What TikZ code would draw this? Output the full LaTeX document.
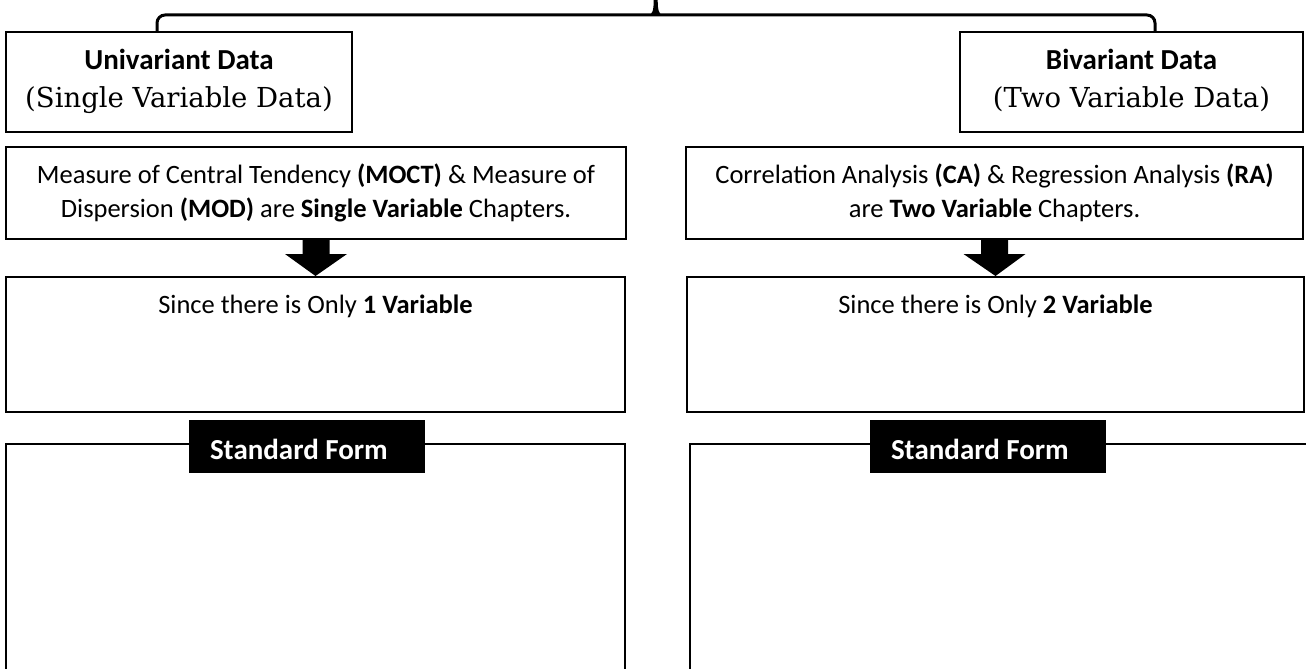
\documentclass[tikz,border=0pt]{standalone}
\usepackage{fontspec}
\setmainfont{Carlito}
\newfontfamily\capfont{DejaVu Serif}
\usetikzlibrary{calc}
\begin{document}
\begin{tikzpicture}[x=1pt,y=-1pt,
  box/.style={draw=black, line width=2pt, rectangle, inner sep=0pt},
  brace/.style={draw=black, line width=3pt, rounded corners=8pt},
  frame/.style={draw=black, line width=2pt},
  txt/.style={anchor=base, inner sep=0pt},
  head/.style={txt, font=\fontsize{29}{37}\selectfont\bfseries},
  sub/.style={txt, font=\capfont\fontsize{27.5}{37}\selectfont},
  body/.style={txt, font=\fontsize{26.5}{34}\selectfont},
  sflabel/.style={fill=black, draw=none, rectangle, inner sep=0pt, minimum width=236pt, minimum height=53pt},
  sftext/.style={text=white, inner sep=0pt, anchor=base west, font=\fontsize{29}{34}\selectfont\bfseries},
  blockarrow/.style={fill=black}]
\useasboundingbox (0,0) rectangle (1306,669);

% top row: the two kinds of data
\node[box, minimum width=346pt, minimum height=100pt] (uni) at (179,82) {};
\node[head] (unih) at ($(uni.north)+(0,39)$) {Univariant Data};
\node[sub] (unis) at ($(uni.north)+(0,76)$) {(Single Variable Data)};
\node[box, minimum width=343pt, minimum height=100pt] (bi) at (1131.5,82) {};
\node[head] (bih) at ($(bi.north)+(0,39)$) {Bivariant Data};
\node[sub] (bis) at ($(bi.north)+(0,76)$) {(Two Variable Data)};

% brace joining the two boxes
\coordinate (apex) at (655.7,15);
\draw[brace] ([xshift=-22pt]uni.north) |- (apex) -| ([xshift=23.5pt]bi.north);
\fill (apex) ++(-7,0) .. controls (652.5,14.5) and (653.7,10) .. (653.7,0)
  -- (657.7,0) .. controls (657.7,10) and (658.9,14.5) .. (662.7,15) -- cycle;

% chapters
\node[box, minimum width=620pt, minimum height=92pt] (m1) at (316,193) {};
\node[body] (m1a) at ($(m1.north)+(0,37)$) {Measure of Central Tendency \textbf{(MOCT)} \& Measure of};
\node[body] (m1b) at ($(m1.north)+(0,71)$) {Dispersion \textbf{(MOD)} are \textbf{Single Variable} Chapters.};
\node[box, minimum width=617pt, minimum height=92pt] (m2) at (994.5,193) {};
\node[body] (m2a) at ($(m2.north)+(0,37)$) {Correlation Analysis \textbf{(CA)} \& Regression Analysis \textbf{(RA)}};
\node[body] (m2b) at ($(m2.north)+(0,71)$) {are \textbf{Two Variable} Chapters.};

% number of variables
\node[box, minimum width=619pt, minimum height=135pt] (s1) at (315.5,344.5) {};
\node[body] (s1t) at ($(s1.north)+(0,37)$) {Since there is Only \textbf{1 Variable}};
\node[box, minimum width=617pt, minimum height=135pt] (s2) at (995.5,344.5) {};
\node[body] (s2t) at ($(s2.north)+(0,37)$) {Since there is Only \textbf{2 Variable}};

% block arrows
\foreach \a/\b in {m1/s1, m2/s2}{
  \fill[blockarrow] ($(\a.south)+(-13.5,0)$) -- ($(\a.south)+(13.5,0)$)
    -- ($(\a.south)+(13.5,14)$) -- ($(\a.south)+(31,14)$) -- (\b.north)
    -- ($(\a.south)+(-31,14)$) -- ($(\a.south)+(-13.5,14)$) -- cycle;
}

% standard form panels
\draw[frame] (6,672) |- (625,444) -- (625,672);
\draw[frame] (690,672) |- (1310,444);
\node[sflabel] (sf1) at (307,446.5) {};
\node[sftext] (sf1t) at ($(sf1.west)+(21,12.5)$) {Standard Form};
\node[sflabel] (sf2) at (988,446.5) {};
\node[sftext] (sf2t) at ($(sf2.west)+(21,12.5)$) {Standard Form};
\end{tikzpicture}
\end{document}
